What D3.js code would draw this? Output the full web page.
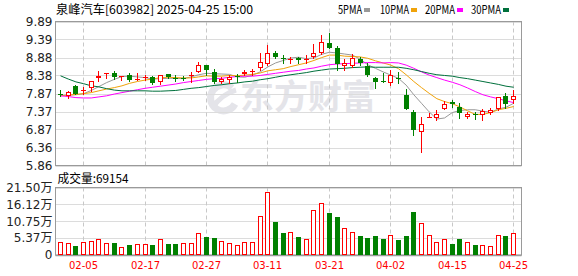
<!DOCTYPE html>
<html><head><meta charset="utf-8">
<script src="https://cdn.jsdelivr.net/npm/d3@7"></script>
<style>body{margin:0;background:#fff}svg{display:block}</style>
</head><body>
<svg id="c" width="578" height="276"></svg>
<script>
const title = "泉峰汽车[603982] 2025-04-25 15:00";
const volTitle = "成交量:69154";
const dates = ["01-23","01-24","01-27","02-05","02-06","02-07","02-10","02-11","02-12","02-13","02-14","02-17","02-18","02-19","02-20","02-21","02-24","02-25","02-26","02-27","02-28","03-03","03-04","03-05","03-06","03-07","03-10","03-11","03-12","03-13","03-14","03-17","03-18","03-19","03-20","03-21","03-24","03-25","03-26","03-27","03-28","03-31","04-01","04-02","04-03","04-07","04-08","04-09","04-10","04-11","04-14","04-15","04-16","04-17","04-18","04-21","04-22","04-23","04-24","04-25"];
const opens  = [7.85,7.80,8.09,7.97,8.03,8.30,8.44,8.45,8.34,8.40,8.27,8.32,8.34,8.19,8.425,8.31,8.31,8.36,8.49,8.68,8.49,8.20,8.26,8.36,8.42,8.48,8.58,8.70,9.02,8.86,8.82,8.88,8.83,8.91,9.00,9.29,9.14,8.65,8.64,8.83,8.65,8.32,8.23,8.16,8.31,7.84,7.35,6.79,7.21,7.20,7.44,7.64,7.51,7.23,7.30,7.28,7.33,7.455,7.80,7.68];
const highs  = [7.98,7.95,8.10,8.05,8.23,8.51,8.45,8.51,8.37,8.445,8.445,8.38,8.37,8.38,8.43,8.38,8.37,8.49,8.75,8.68,8.565,8.35,8.39,8.42,8.52,8.565,9.02,9.24,9.07,8.96,8.89,8.885,8.96,9.26,9.50,9.56,9.21,8.84,8.985,8.89,8.72,8.33,8.44,8.52,8.47,8.00,7.40,7.23,7.33,7.42,7.67,7.70,7.61,7.37,7.35,7.44,7.465,7.78,7.88,7.98];
const lows   = [7.81,7.74,7.86,7.87,7.95,8.23,8.32,8.29,8.25,8.23,8.24,8.26,8.13,8.135,8.32,8.23,8.24,8.21,8.47,8.40,8.18,8.165,8.165,8.20,8.40,8.40,8.54,8.68,8.855,8.72,8.72,8.72,8.74,8.88,8.985,9.14,8.52,8.52,8.61,8.68,8.37,8.04,8.21,8.11,8.16,7.43,6.70,6.23,7.21,7.12,7.43,7.49,7.185,7.20,7.175,7.14,7.30,7.42,7.465,7.62];
const closes = [7.83,7.91,7.87,7.98,8.22,8.37,8.45,8.35,8.36,8.26,8.29,8.34,8.155,8.38,8.33,8.30,8.30,8.40,8.68,8.54,8.21,8.28,8.33,8.35,8.48,8.50,8.75,9.00,8.91,8.845,8.85,8.82,8.84,9.01,9.31,9.16,8.705,8.72,8.87,8.74,8.38,8.21,8.22,8.38,8.30,7.44,6.84,7.02,7.22,7.30,7.59,7.57,7.33,7.31,7.29,7.39,7.42,7.77,7.59,7.81];
// volume in 万
const volumes = [4.0,3.7,2.85,4.0,4.6,5.0,3.7,3.8,2.4,3.2,3.4,3.5,3.2,5.0,3.5,3.5,3.7,3.7,6.85,5.7,5.4,4.6,3.7,3.2,4.0,4.0,12.5,20.2,10.4,7.0,7.2,5.7,5.06,14.2,16.6,13.3,12.0,8.5,7.3,6.0,5.4,6.0,5.06,6.3,4.7,6.0,13.6,10.1,6.3,4.3,5.06,3.5,5.06,4.3,3.16,3.16,2.85,6.5,6.0,6.95];
const volUp = [1,1,0,1,1,1,1,0,1,0,1,1,0,1,0,0,1,1,1,0,0,1,1,1,1,1,1,1,0,0,1,0,1,1,1,0,0,1,1,0,0,0,0,1,0,0,0,1,1,1,1,0,0,1,0,1,1,1,0,1];
const ma5  = [7.82,7.83,7.84,7.87,7.96,8.07,8.18,8.27,8.35,8.36,8.34,8.32,8.28,8.29,8.30,8.30,8.29,8.34,8.40,8.44,8.43,8.42,8.41,8.34,8.33,8.39,8.48,8.62,8.73,8.80,8.87,8.89,8.85,8.87,8.97,9.03,9.01,8.98,8.95,8.84,8.68,8.58,8.48,8.39,8.30,8.11,7.84,7.60,7.36,7.16,7.19,7.34,7.40,7.42,7.42,7.38,7.35,7.44,7.49,7.60];
const ma10 = [7.81,7.83,7.85,7.87,7.90,7.95,8.00,8.04,8.09,8.16,8.21,8.25,8.28,8.32,8.33,8.32,8.31,8.31,8.34,8.37,8.36,8.36,8.38,8.37,8.39,8.41,8.45,8.51,8.54,8.57,8.63,8.68,8.73,8.80,8.88,8.95,8.95,8.92,8.91,8.90,8.86,8.79,8.73,8.67,8.57,8.40,8.21,8.04,7.88,7.73,7.65,7.59,7.50,7.39,7.29,7.29,7.34,7.42,7.46,7.51];
const ma20 = [7.81,7.79,7.76,7.75,7.75,7.78,7.81,7.86,7.90,7.94,7.98,8.02,8.05,8.08,8.11,8.14,8.18,8.21,8.24,8.27,8.29,8.30,8.33,8.35,8.36,8.36,8.38,8.41,8.44,8.47,8.50,8.52,8.56,8.59,8.64,8.68,8.70,8.71,8.72,8.73,8.74,8.74,8.73,8.74,8.73,8.67,8.58,8.48,8.39,8.32,8.25,8.19,8.12,8.03,7.93,7.84,7.78,7.73,7.67,7.62];
const ma30 = [8.37,8.28,8.20,8.15,8.09,8.06,8.01,7.97,7.95,7.95,7.95,7.95,7.94,7.94,7.95,7.96,7.99,8.02,8.04,8.07,8.10,8.12,8.15,8.17,8.20,8.22,8.26,8.29,8.33,8.37,8.40,8.43,8.46,8.50,8.53,8.56,8.57,8.58,8.60,8.61,8.62,8.61,8.61,8.61,8.61,8.58,8.54,8.49,8.44,8.40,8.38,8.36,8.32,8.29,8.25,8.21,8.17,8.13,8.08,8.05];
const maNames = ["5PMA","10PMA","20PMA","30PMA"];
const priceTicks = [9.89,9.39,8.88,8.38,7.87,7.37,6.87,6.36,5.86];
const priceTickLabels = ["9.89","9.39","8.88","8.38","7.87","7.37","6.87","6.36","5.86"];
const volTicks = [21.50,16.12,10.75,5.37,0];
const volTickLabels = ["21.50万","16.12万","10.75万","5.37万","0"];
const xTickDates = ["02-05","02-17","02-27","03-11","03-21","04-02","04-15","04-25"];

const svg = d3.select("#c");
const RED = "#ff0000", GREEN = "#008000", FRAME = "#9a9a9a", GRID = "#dcdcdc", VGRID = "#c8c8c8";
const maColors = ["#999999","#f0a30a","#ff00ff","#00703c"];
const L = 55.5, R = 521.5;

const x = d3.scaleBand().domain(dates).range([56.7, 517.5]);
const bw = x.bandwidth();
const cx = d => Math.floor(x(d) + bw/2);
const y = d3.scaleLinear().domain([5.86, 9.89]).range([165.5, 21.5]);
const yv = d3.scaleLinear().domain([0, 21.5]).range([255, 187.5]);

// watermark
const WM = "#e4e4e9";
const wm = svg.append("g").attr("fill","none").attr("stroke",WM);
wm.append("path").attr("d","M232,88 A13,13 0 1,0 235,104").attr("stroke-width",7);
wm.append("path").attr("d","M212,108 Q222,94 236,90").attr("stroke-width",5);
svg.append("text").attr("x",240).attr("y",109)
  .attr("font-family","Noto Sans CJK SC").attr("font-weight","bold").attr("font-size",34)
  .attr("fill",WM).text("东方财富");

// header
svg.append("text").attr("x",56).attr("y",14).attr("font-family","Noto Sans CJK SC")
  .attr("font-size",12).attr("fill","#000").attr("textLength",197).attr("lengthAdjust","spacingAndGlyphs").text(title);
const legX = [338,380,425,471], legW=[24,29,30,30];
maNames.forEach((n,k)=>{
  svg.append("text").attr("x",legX[k]).attr("y",14).attr("font-family","Noto Sans CJK SC")
    .attr("font-size",11.5).attr("fill","#000").attr("textLength",legW[k]).attr("lengthAdjust","spacingAndGlyphs").text(n);
  svg.append("rect").attr("x",legX[k]+legW[k]+2).attr("y",8).attr("width",6).attr("height",4).attr("fill",maColors[k]);
});

// price grid
const gP = svg.append("g");
gP.selectAll("line.h").data(priceTicks).join("line")
  .attr("x1",L).attr("x2",R).attr("y1",d=>Math.round(y(d))+0.5).attr("y2",d=>Math.round(y(d))+0.5)
  .attr("stroke",GRID);
gP.selectAll("text").data(priceTicks).join("text")
  .attr("x",52.5).attr("y",d=>y(d)).attr("dy","0.36em").attr("text-anchor","end")
  .attr("font-family","DejaVu Sans").attr("font-size",12).attr("fill","#222")
  .text((d,i)=>priceTickLabels[i]);

// volume grid
const gV = svg.append("g");
gV.selectAll("line.h").data(volTicks).join("line")
  .attr("x1",L).attr("x2",R).attr("y1",d=>Math.round(yv(d))+0.5).attr("y2",d=>Math.round(yv(d))+0.5)
  .attr("stroke",GRID);
gV.selectAll("text").data(volTicks).join("text")
  .attr("x",52.5).attr("y",d=>yv(d)).attr("dy","0.36em").attr("text-anchor","end")
  .attr("font-family","DejaVu Sans, Noto Sans CJK SC").attr("font-size",12).attr("fill","#222")
  .text((d,i)=>volTickLabels[i]);
svg.append("text").attr("x",57.5).attr("y",182.5).attr("font-family","Noto Sans CJK SC")
  .attr("font-size",12).attr("fill","#000").attr("textLength",71).attr("lengthAdjust","spacingAndGlyphs").text(volTitle);

// vertical dashed grid + x labels
xTickDates.forEach(d=>{
  const xx = cx(d)+0.5;
  [[21.5,165.5],[187.5,255]].forEach(([a,b])=>{
    svg.append("line").attr("x1",xx).attr("x2",xx).attr("y1",a).attr("y2",b)
      .attr("stroke",VGRID).attr("stroke-dasharray","4,3");
  });
  svg.append("text").attr("x",xx).attr("y",269).attr("text-anchor","middle")
    .attr("font-family","DejaVu Sans").attr("font-size",10).attr("fill",RED).text(d);
});

// frames
svg.append("rect").attr("x",L).attr("y",21.5).attr("width",R-L).attr("height",144)
  .attr("fill","none").attr("stroke",FRAME);
svg.append("rect").attr("x",L).attr("y",187.5).attr("width",R-L).attr("height",67.5)
  .attr("fill","none").attr("stroke",FRAME);
svg.append("line").attr("x1",L).attr("x2",R).attr("y1",255.5).attr("y2",255.5).attr("stroke",FRAME).attr("stroke-width",1.5);

// MA lines
[ma5,ma10,ma20,ma30].forEach((arr,k)=>{
  const line = d3.line().x((v,i)=>x(dates[i])+bw/2).y(v=>y(v));
  svg.append("path").attr("d",line(arr)).attr("fill","none").attr("stroke",maColors[k]).attr("stroke-width",1);
});

// candles
const gc = svg.append("g");
dates.forEach((d,i)=>{
  const c = cx(d), o=opens[i], cl=closes[i];
  const up = cl >= o, col = up?RED:GREEN;
  const top = Math.round(y(Math.max(o,cl))), bot = Math.round(y(Math.min(o,cl)));
  gc.append("line").attr("x1",c+0.5).attr("x2",c+0.5).attr("y1",Math.round(y(highs[i]))).attr("y2",Math.round(y(lows[i]))+1).attr("stroke",col);
  if (bot-top <= 1) {
    gc.append("rect").attr("x",c-2).attr("y",top).attr("width",5).attr("height",Math.max(1,bot-top)).attr("fill",col);
  } else if (up) {
    gc.append("rect").attr("x",c-1.5).attr("y",top+0.5).attr("width",4).attr("height",bot-top-1).attr("fill","#fff").attr("stroke",col);
  } else {
    gc.append("rect").attr("x",c-2).attr("y",top).attr("width",5).attr("height",bot-top).attr("fill",col);
  }
});

// volume bars
const gvb = svg.append("g");
dates.forEach((d,i)=>{
  const c = cx(d), t = Math.round(yv(volumes[i])), b = 255;
  if (volUp[i]) {
    gvb.append("rect").attr("x",c-1.5).attr("y",t+0.5).attr("width",4).attr("height",b-t-1).attr("fill","#fff").attr("stroke",RED);
  } else {
    gvb.append("rect").attr("x",c-2).attr("y",t).attr("width",5).attr("height",b-t).attr("fill",GREEN);
  }
});
</script>
</body></html>
